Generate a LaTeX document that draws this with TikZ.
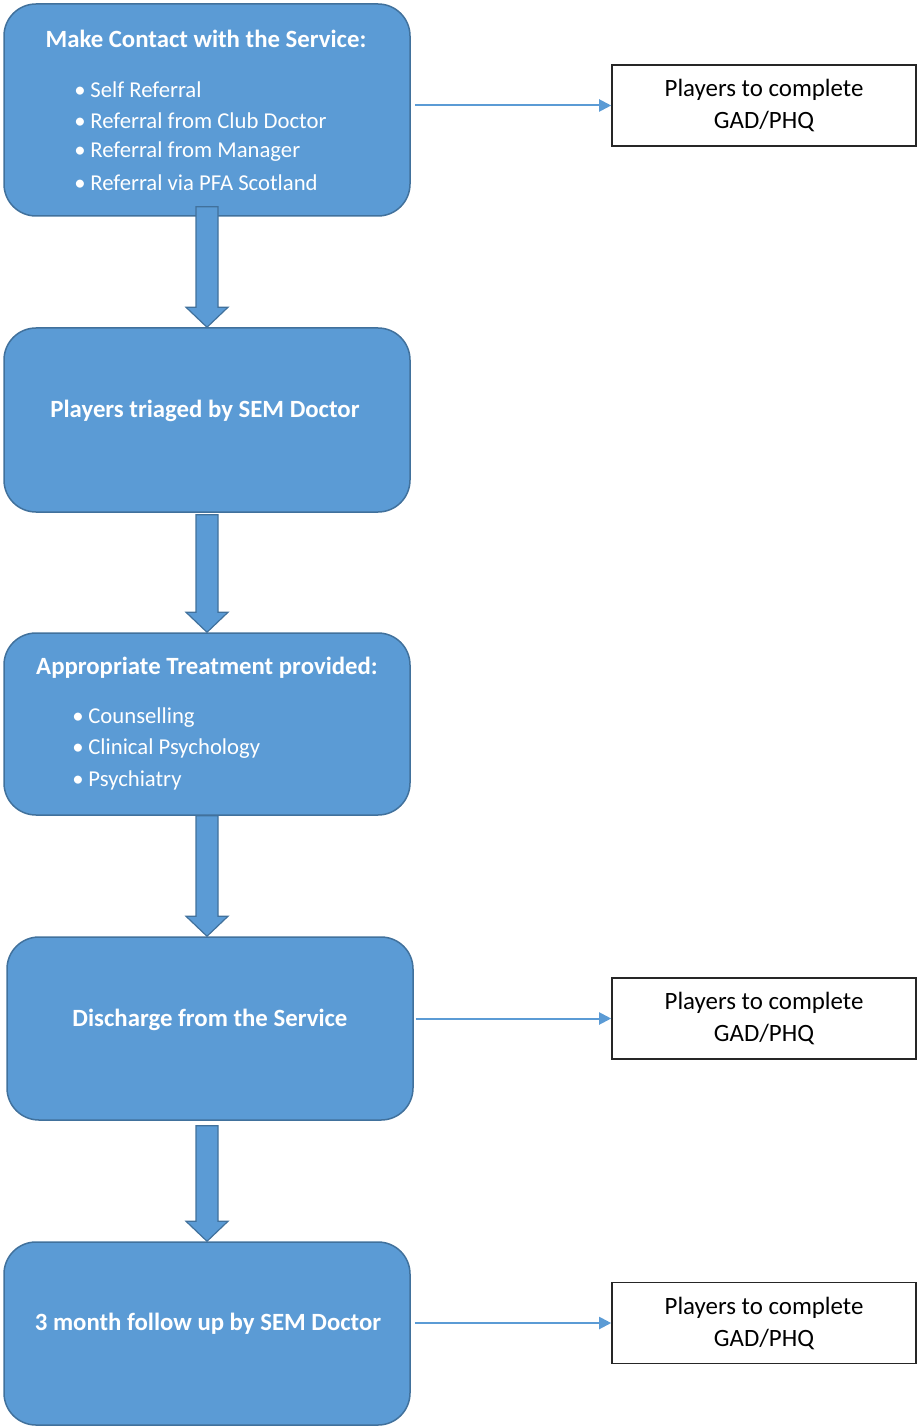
\documentclass[tikz,border=0pt]{standalone}
\usepackage{fontspec}
\setmainfont{Carlito}
\usetikzlibrary{arrows.meta,calc}
\definecolor{boxblue}{HTML}{5B9BD5}
\definecolor{boxedge}{HTML}{41719C}
\tikzset{
  bluebox/.style={draw=boxedge, line width=0.75pt, fill=boxblue, rounded corners=16pt,
    minimum width=203pt, inner sep=0pt},
  whitebox/.style={draw=black!85, line width=0.8pt, fill=white, minimum width=152pt,
    minimum height=40.5pt, inner sep=0pt, align=center, text=black,
    font=\fontsize{12.45}{16}\selectfont},
  titletext/.style={text=white, font=\bfseries\fontsize{12.4}{14}\selectfont, inner sep=0pt},
  itemtext/.style={text=white, font=\fontsize{11.35}{14}\selectfont, inner sep=0pt, anchor=west},
  blockarrow/.style={draw=boxedge, line width=0.6pt, fill=boxblue},
  thinarrow/.style={draw=boxblue, line width=1pt, -{Triangle[length=6pt,width=6pt]}}
}
\newcommand{\bitem}[1]{\makebox[8.5pt][l]{\hspace{0.5pt}•}#1}
\begin{document}
\begin{tikzpicture}[x=0.5pt,y=-0.5pt]
\useasboundingbox (0,0) rectangle (918,1427);
% main boxes
\node[bluebox, minimum height=106pt] (b1) at (207,110) {};
\node[bluebox, minimum height=92pt] (b2) at (207,420) {};
\node[bluebox, minimum height=91pt] (b3) at (207,724) {};
\node[bluebox, minimum height=91.5pt] (b4) at (210,1028.5) {};
\node[bluebox, minimum height=91.5pt] (b5) at (207,1333.5) {};
% texts
\node[titletext] (t1) at (206,39) {Make Contact with the Service:};
\node[itemtext] (i11) at (73,90) {\bitem{Self Referral}};
\node[itemtext] (i12) at (73,121) {\bitem{Referral from Club Doctor}};
\node[itemtext] (i13) at (73,152) {\bitem{Referral from Manager}};
\node[itemtext] (i14) at (73,183) {\bitem{Referral via PFA Scotland}};
\node[titletext] (t2) at (205,411) {Players triaged by SEM Doctor};
\node[titletext] (t3) at (207,668) {Appropriate Treatment provided:};
\node[itemtext] (i31) at (71,718) {\bitem{Counselling}};
\node[itemtext] (i32) at (71,749) {\bitem{Clinical Psychology}};
\node[itemtext] (i33) at (71,780) {\bitem{Psychiatry}};
\node[titletext] (t4) at (210,1020) {Discharge from the Service};
\node[titletext] (t5) at (208,1324) {3 month follow up by SEM Doctor};
% right boxes
\node[whitebox] (r1) at (764,105.5) {Players to complete\\GAD/PHQ};
\node[whitebox] (r2) at (764,1018.5) {Players to complete\\GAD/PHQ};
\node[whitebox] (r3) at (764,1323) {Players to complete\\GAD/PHQ};
% block arrows
\foreach \a/\b/\o in {b1/b2/5pt, b2/b3/-1pt, b3/b4/0pt, b4/b5/-2.5pt}{
  \path let \p1=(b1.south), \p2=(\a.south), \p3=(\b.north) in
    [blockarrow] (\x1-5.5pt,\y2+\o) -- (\x1+5.5pt,\y2+\o) -- (\x1+5.5pt,\y3+10pt)
    -- (\x1+10.5pt,\y3+10pt) -- (\x1,\y3) -- (\x1-10.5pt,\y3+10pt)
    -- (\x1-5.5pt,\y3+10pt) -- cycle;
}
% thin arrows
\draw[thinarrow] ([xshift=2pt]b1.east |- r1.west) -- (r1.west);
\draw[thinarrow] ([xshift=1pt]b4.east |- r2.west) -- (r2.west);
\draw[thinarrow] ([xshift=2pt]b5.east |- r3.west) -- (r3.west);
\end{tikzpicture}
\end{document}
